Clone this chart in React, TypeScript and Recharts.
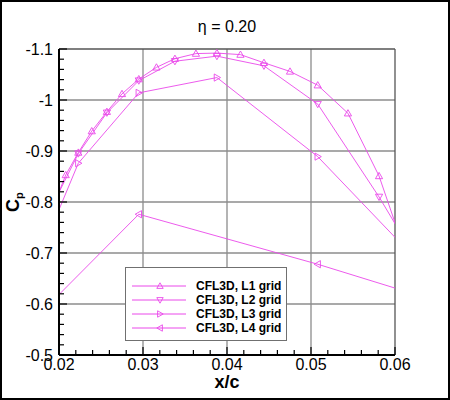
import { LineChart, Line, XAxis, YAxis, ReferenceLine, Legend, Label } from "recharts";

// x/c stations and pressure coefficients per grid level
// (first/last points sit just outside the plot window, the lines get clipped)
const l1X = [0.0193, 0.0208, 0.0223, 0.0239, 0.0257, 0.0275, 0.0295, 0.0316, 0.0338, 0.0363, 0.0388, 0.0416, 0.0444, 0.0475, 0.0508, 0.0544, 0.0581, 0.0618];
const l1Cp = [-0.79, -0.853, -0.897, -0.939, -0.977, -1.012, -1.041, -1.064, -1.081, -1.091, -1.092, -1.089, -1.073, -1.056, -1.029, -0.974, -0.851, -0.673];

const l2X = [0.0193, 0.0223, 0.0257, 0.0295, 0.0338, 0.0388, 0.0444, 0.0508, 0.0581, 0.0655];
const l2Cp = [-0.796, -0.895, -0.975, -1.038, -1.076, -1.086, -1.067, -0.992, -0.81, -0.606];

const l3X = [0.0175, 0.0223, 0.0295, 0.0388, 0.0508, 0.0658];
const l3Cp = [-0.686, -0.876, -1.014, -1.044, -0.889, -0.631];

const l4X = [0.0175, 0.0295, 0.0508, 0.085];
const l4Cp = [-0.577, -0.776, -0.678, -0.504];

const xMajor = [0.02, 0.03, 0.04, 0.05, 0.06];
const yMajor = [-1.1, -1.0, -0.9, -0.8, -0.7, -0.6, -0.5];

const X_DOMAIN: [number, number] = [0.02, 0.06];
const Y_DOMAIN: [number, number] = [-1.1, -0.5];

const MAGENTA = "#ea48ea";
const FONT = '"Liberation Sans", Arial, Helvetica, sans-serif';
const Y_MARGIN = 6;
const X_MARGIN = 3;

type Kind = "up" | "down" | "right" | "left";

const series: { name: string; kind: Kind; xs: number[]; cps: number[] }[] = [
  { name: "CFL3D, L1 grid", kind: "up", xs: l1X, cps: l1Cp },
  { name: "CFL3D, L2 grid", kind: "down", xs: l2X, cps: l2Cp },
  { name: "CFL3D, L3 grid", kind: "right", xs: l3X, cps: l3Cp },
  { name: "CFL3D, L4 grid", kind: "left", xs: l4X, cps: l4Cp },
];

const kindByName: Record<string, Kind> = {};
series.forEach((s) => (kindByName[s.name] = s.kind));

// 4 minor ticks between majors, like the tecplot frame
function subdivide(major: number[], n: number): number[] {
  const out: number[] = [];
  for (let i = 0; i < major.length - 1; i++) {
    for (let k = 0; k < n; k++) out.push(major[i] + ((major[i + 1] - major[i]) * k) / n);
  }
  out.push(major[major.length - 1]);
  return out;
}

const xTicks = subdivide(xMajor, 5);
const yTicks = subdivide(yMajor, 5);

const isMajor = (v: number, list: number[]) => list.some((m) => Math.abs(m - v) < 1e-9);

function Marker({ cx, cy, kind, s = 3.6 }: { cx: number; cy: number; kind: Kind; s?: number }) {
  const h = s * 0.75;
  let pts: number[][];
  switch (kind) {
    case "up":
      pts = [[cx, cy - s], [cx + s, cy + h], [cx - s, cy + h]];
      break;
    case "down":
      pts = [[cx, cy + s], [cx + s, cy - h], [cx - s, cy - h]];
      break;
    case "right":
      pts = [[cx + s, cy], [cx - h, cy - s], [cx - h, cy + s]];
      break;
    default:
      pts = [[cx - s, cy], [cx + h, cy - s], [cx + h, cy + s]];
  }
  return (
    <polygon
      points={pts.map((p) => p.join(",")).join(" ")}
      fill="none"
      stroke={MAGENTA}
      strokeWidth={0.9}
    />
  );
}

const makeDot = (kind: Kind) => (props: any) => {
  const { cx, cy, payload, index } = props;
  const x = payload?.x;
  if (x == null || x < X_DOMAIN[0] - 1e-9 || x > X_DOMAIN[1] + 1e-9) return <g key={index} />;
  return <Marker key={index} cx={cx} cy={cy} kind={kind} />;
};

const YTick = (props: any) => {
  const { x, y, payload } = props;
  const v = payload.value as number;
  const major = isMajor(v, yMajor);
  const ax = x + Y_MARGIN;
  return (
    <g>
      <line x1={ax} x2={ax + (major ? 8 : 5)} y1={y} y2={y} stroke="#000" strokeWidth={1.2} />
      {major && (
        <text x={x} y={y} dy="0.36em" textAnchor="end" fontSize={16} fontFamily={FONT} fill="#000">
          {String(Number(v.toFixed(1)))}
        </text>
      )}
    </g>
  );
};

const XTick = (props: any) => {
  const { x, y, payload } = props;
  const v = payload.value as number;
  const major = isMajor(v, xMajor);
  const ay = y - X_MARGIN;
  return (
    <g>
      <line x1={x} x2={x} y1={ay} y2={ay - (major ? 8 : 5)} stroke="#000" strokeWidth={1.2} />
      {major && (
        <text x={x} y={y} dy="0.72em" textAnchor="middle" fontSize={16} fontFamily={FONT} fill="#000">
          {v.toFixed(2)}
        </text>
      )}
    </g>
  );
};

const LegendBox = ({ payload }: any) => (
  <div
    style={{
      boxSizing: "border-box",
      width: 162,
      height: 74,
      background: "#fff",
      border: "1px solid #707070",
      padding: "11px 0 0 6px",
    }}
  >
    {(payload || []).map((entry: any) => (
      <div key={entry.value} style={{ display: "flex", alignItems: "center", height: 14 }}>
        <svg width={56} height={14} style={{ display: "block" }}>
          <line x1={0} x2={54} y1={7} y2={7} stroke={MAGENTA} strokeWidth={1} />
          <Marker cx={28} cy={7} kind={kindByName[entry.value]} s={3.2} />
        </svg>
        <span
          style={{
            marginLeft: 8,
            fontFamily: FONT,
            fontWeight: "bold",
            fontSize: 12,
            lineHeight: "14px",
            color: "#000",
            whiteSpace: "nowrap",
          }}
        >
          {entry.value}
        </span>
      </div>
    ))}
  </div>
);

export default function App() {
  return (
    <div style={{ position: "absolute", left: 0, top: 0, width: 450, height: 400, background: "#fff" }}>
      <div
        style={{
          position: "absolute",
          left: 0,
          top: 18,
          width: 454,
          textAlign: "center",
          fontFamily: FONT,
          fontSize: 16,
          color: "#000",
        }}
      >
        η = 0.20
      </div>
      <LineChart width={450} height={400} margin={{ top: 49, right: 55, bottom: 0, left: 0 }}>
        <XAxis
          type="number"
          dataKey="x"
          domain={X_DOMAIN}
          allowDataOverflow
          ticks={xTicks}
          interval={0}
          height={45}
          tickSize={0}
          tickLine={false}
          tickMargin={X_MARGIN}
          tick={<XTick />}
          axisLine={{ stroke: "#000", strokeWidth: 2 }}
        >
          <Label
            content={({ viewBox }: any) => (
              <text
                x={viewBox.x + viewBox.width / 2}
                y={388}
                textAnchor="middle"
                fontSize={18}
                fontWeight="bold"
                fontFamily={FONT}
                fill="#000"
              >
                x/c
              </text>
            )}
          />
        </XAxis>
        <YAxis
          type="number"
          dataKey="cp"
          domain={Y_DOMAIN}
          reversed
          allowDataOverflow
          ticks={yTicks}
          interval={0}
          width={59}
          tickSize={0}
          tickLine={false}
          tickMargin={Y_MARGIN}
          tick={<YTick />}
          axisLine={{ stroke: "#000", strokeWidth: 2 }}
        >
          <Label
            content={({ viewBox }: any) => {
              const cx = 19;
              const cy = viewBox.y + viewBox.height / 2;
              return (
                <text
                  x={cx}
                  y={cy}
                  transform={`rotate(-90 ${cx} ${cy})`}
                  textAnchor="middle"
                  fontSize={18}
                  fontWeight="bold"
                  fontFamily={FONT}
                  fill="#000"
                >
                  C
                  <tspan fontSize={11} dy={4}>
                    p
                  </tspan>
                </text>
              );
            }}
          />
        </YAxis>

        {xMajor.slice(1, -1).map((v) => (
          <ReferenceLine key={"gx" + v} x={v} stroke="#8c8c8c" strokeWidth={1.3} />
        ))}
        {yMajor.slice(1, -1).map((v) => (
          <ReferenceLine key={"gy" + v} y={v} stroke="#8c8c8c" strokeWidth={1.3} />
        ))}
        <ReferenceLine x={X_DOMAIN[1]} stroke="#555" strokeWidth={1.3} />
        <ReferenceLine y={Y_DOMAIN[0]} stroke="#555" strokeWidth={1.3} />

        {series.map((s) => (
          <Line
            key={s.name}
            name={s.name}
            data={s.xs.map((x, i) => ({ x, cp: s.cps[i] }))}
            dataKey="cp"
            type="linear"
            stroke={MAGENTA}
            strokeWidth={0.9}
            dot={makeDot(s.kind)}
            activeDot={false}
            isAnimationActive={false}
          />
        ))}

        <Legend
          layout="vertical"
          align="center"
          verticalAlign="middle"
          wrapperStyle={{ left: 125, top: 267, width: 162, height: 74, right: "auto", bottom: "auto" }}
          content={<LegendBox />}
        />
      </LineChart>
      <div
        style={{
          position: "absolute",
          left: 0,
          top: 0,
          width: 450,
          height: 400,
          boxSizing: "border-box",
          border: "2px solid #000",
          pointerEvents: "none",
        }}
      />
    </div>
  );
}
